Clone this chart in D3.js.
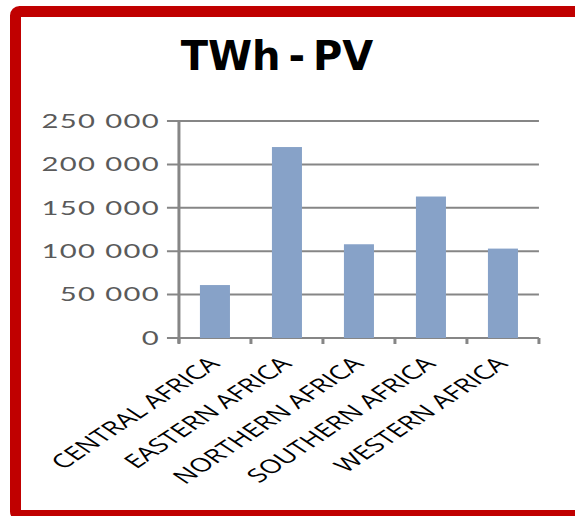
<!DOCTYPE html>
<html>
<head>
<meta charset="utf-8">
<script src="https://cdn.jsdelivr.net/npm/d3@7"></script>
<style>
  html, body { margin: 0; padding: 0; background: #fff; }
  svg { display: block; }
</style>
</head>
<body>
<svg id="chart" width="575" height="516"></svg>
<script>
// Solar PV generation by African region (TWh)
const regions = ["CENTRAL AFRICA", "EASTERN AFRICA", "NORTHERN AFRICA", "SOUTHERN AFRICA", "WESTERN AFRICA"];
const pvValues = [61000, 220000, 108000, 163000, 103000];
const yTicks = [0, 50000, 100000, 150000, 200000, 250000];
const chartTitle = "TWh - PV";

(function () {
  const svg = d3.select("#chart");

  // framed panel
  svg.append("rect")
    .attr("x", 15.5).attr("y", 11.5)
    .attr("width", 600).attr("height", 504)
    .attr("rx", 4)
    .attr("fill", "#fff")
    .attr("stroke", "#c00000")
    .attr("stroke-width", 11);

  svg.append("text")
    .attr("x", 277).attr("y", 70)
    .attr("text-anchor", "middle")
    .attr("font-family", "DejaVu Sans")
    .attr("font-weight", "bold")
    .attr("font-size", 40)
    .attr("word-spacing", -6)
    .attr("fill", "#000")
    .text(chartTitle);

  // plot drawn in a horizontally widened frame
  const sx = 1.5;
  const plotLeft = 119.3, plotRight = 359.3, plotTop = 121, plotBottom = 338;
  const plot = svg.append("g").attr("transform", `scale(${sx},1)`);

  const x = d3.scaleBand().domain(regions).range([plotLeft, plotRight])
    .paddingInner(0.583).paddingOuter(0.2915);
  const y = d3.scaleLinear().domain([0, 250000]).range([plotBottom, plotTop]);

  const fmt = d3.formatLocale({ decimal: ".", thousands: " ", grouping: [3], currency: ["", ""] }).format(",d");
  const gridColor = "#868686";

  // gridlines with short outer ticks
  plot.append("g").selectAll("line").data(yTicks).join("line")
    .attr("x1", plotLeft - 8).attr("x2", plotRight)
    .attr("y1", d => y(d)).attr("y2", d => y(d))
    .attr("stroke", gridColor).attr("stroke-width", 2);

  // y axis labels
  const yAxis = d3.axisLeft(y).tickValues(yTicks).tickFormat(fmt).tickSize(0).tickPadding(12.6);
  const gy = plot.append("g").attr("transform", `translate(${plotLeft},0)`).call(yAxis);
  gy.select(".domain").remove();
  gy.selectAll("text")
    .attr("font-family", "Lato")
    .attr("font-size", 19.5)
    .attr("letter-spacing", 0.9)
    .attr("fill", "#5a5a5a");

  // bars
  plot.append("g").selectAll("rect").data(pvValues).join("rect")
    .attr("x", (d, i) => x(regions[i]))
    .attr("width", x.bandwidth())
    .attr("y", d => y(d))
    .attr("height", d => y(0) - y(d))
    .attr("fill", "#87a2c8");

  // vertical axis line
  plot.append("line")
    .attr("x1", plotLeft).attr("x2", plotLeft)
    .attr("y1", plotTop).attr("y2", plotBottom + 5)
    .attr("stroke", gridColor).attr("stroke-width", 2);

  // category boundary ticks
  const bounds = d3.range(regions.length + 1).map(i => plotLeft + i * x.step());
  plot.append("g").selectAll("line").data(bounds).join("line")
    .attr("x1", d => d).attr("x2", d => d)
    .attr("y1", plotBottom).attr("y2", plotBottom + 6)
    .attr("stroke", gridColor).attr("stroke-width", 2);

  // category labels
  const xAxis = d3.axisBottom(x).tickSize(0).tickPadding(0);
  const gx = plot.append("g").attr("transform", `translate(0,${plotBottom})`).call(xAxis);
  gx.select(".domain").remove();
  gx.selectAll("text")
    .attr("font-family", "Open Sans")
    .attr("font-size", 19)
    .attr("font-weight", 500)
    .attr("fill", "#000")
    .attr("text-anchor", "end")
    .attr("dy", 0)
    .attr("transform", "translate(4,27) rotate(-45)");
})();
</script>
</body>
</html>
